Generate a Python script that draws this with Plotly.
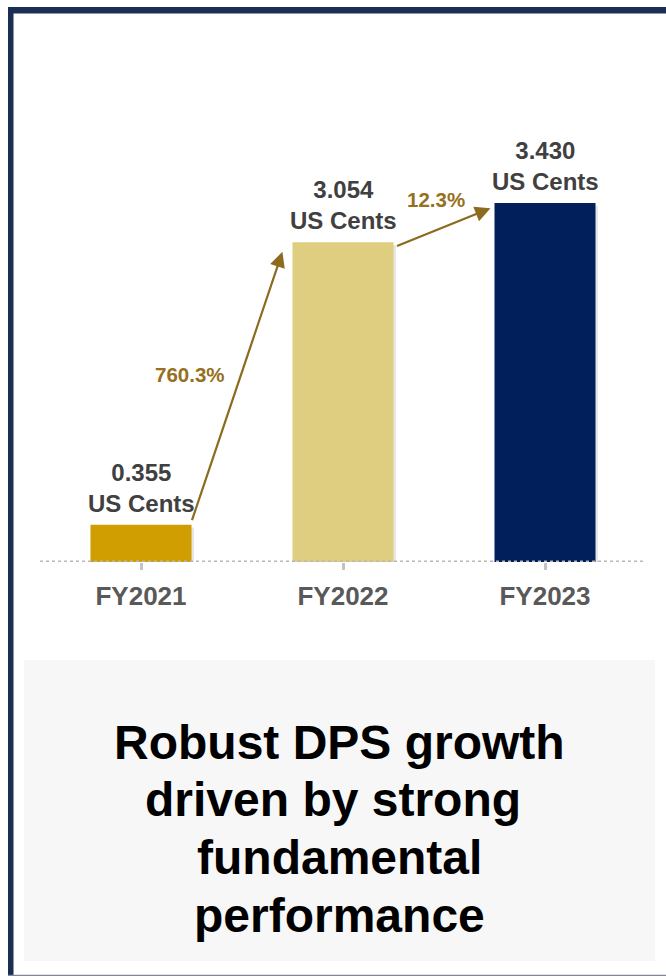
import plotly.graph_objects as go

# ---- data ----
categories = ["FY2021", "FY2022", "FY2023"]
dps_values = [0.355, 3.054, 3.430]
value_labels = ["0.355", "3.054", "3.430"]
growth_labels = ["760.3%", "12.3%"]
bar_colors = ["#d09e00", "#dfcd80", "#001f5b"]
headline_lines = ["Robust DPS growth", "driven by strong ", "fundamental", "performance"]

W, H = 666, 976
ML, MR, MT, MB = 40, 20, 80, 414
PW, PH = W - ML - MR, H - MT - MB
FONT = "Arial, 'Liberation Sans', sans-serif"

def px_x(p):
    return (p - ML) / PW

def px_y(p):
    return (H - MB - p) / PH

xs = list(range(len(categories)))
fig = go.Figure()
# soft shadow behind bars
fig.add_trace(go.Bar(x=[x + 0.012 for x in xs], y=dps_values, width=0.5, base=[-0.025] * 3,
                     marker=dict(color="rgba(0,0,0,0.10)", line=dict(width=0)),
                     hoverinfo="skip"))
fig.add_trace(go.Bar(x=xs, y=dps_values, width=0.5,
                     marker=dict(color=bar_colors, line=dict(width=0)),
                     hoverinfo="skip"))

annotations = []
# value labels
for i, (v, lab) in enumerate(zip(dps_values, value_labels)):
    annotations.append(dict(x=i, y=v, xref="x", yref="y", text=f"<b>{lab}<br>US Cents</b>",
                            showarrow=False, yanchor="bottom", yshift=6,
                            font=dict(family=FONT, size=24, color="#404040")))
# growth arrows
arrow_color = "#8c6a1e"
arrows = [
    ((0.25, dps_values[0] + 0.03), (0.70, dps_values[1] - 0.09)),
    ((1.26, dps_values[1] - 0.04), (1.73, dps_values[2] - 0.05)),
]
for (tx, ty), (hx, hy) in arrows:
    annotations.append(dict(x=hx, y=hy, ax=tx, ay=ty, xref="x", yref="y", axref="x", ayref="y",
                            text="", showarrow=True, arrowhead=2, arrowsize=1.4, arrowwidth=2.2,
                            arrowcolor=arrow_color, standoff=0, startstandoff=0))
growth_pos = [(0.243, 1.787), (1.46, 3.468)]
for (gx, gy), g in zip(growth_pos, growth_labels):
    annotations.append(dict(x=gx, y=gy, xref="x", yref="y", text=f"<b>{g}</b>", showarrow=False,
                            font=dict(family=FONT, size=20.5, color="#967020")))
# headline, one annotation per line
for k, line in enumerate(headline_lines):
    annotations.append(dict(x=px_x(339), y=px_y(742 + 57.7 * k), xref="paper", yref="paper",
                            text=f"<b>{line}</b>", showarrow=False,
                            xanchor="center", yanchor="middle",
                            font=dict(family=FONT, size=48, color="#000000")))

shapes = [
    # headline box
    dict(type="rect", xref="paper", yref="paper", x0=px_x(24), x1=px_x(655), y0=px_y(961), y1=px_y(660),
         fillcolor="#f7f7f7", line=dict(width=0), layer="below"),
    # frame
    dict(type="rect", xref="paper", yref="paper", x0=px_x(8), x1=px_x(667), y0=px_y(13.5), y1=px_y(7),
         fillcolor="#1b2f55", line=dict(width=0)),
    dict(type="rect", xref="paper", yref="paper", x0=px_x(8), x1=px_x(13.5), y0=px_y(977), y1=px_y(7),
         fillcolor="#1b2f55", line=dict(width=0)),
    dict(type="line", xref="paper", yref="paper", x0=px_x(8), x1=px_x(667), y0=px_y(975.5), y1=px_y(975.5),
         line=dict(color="#7f8794", width=1.5)),
    # dotted baseline
    dict(type="line", xref="paper", yref="y", x0=0, x1=1, y0=0, y1=0,
         line=dict(color="#b8b8b8", width=3, dash="dot"), layer="above"),
]

fig.update_layout(
    width=W, height=H, margin=dict(l=ML, r=MR, t=MT, b=MB),
    paper_bgcolor="white", plot_bgcolor="white", showlegend=False, barmode="overlay",
    annotations=annotations, shapes=shapes,
    xaxis=dict(tickvals=xs, ticktext=[f"<b>{c}</b>" for c in categories], range=[-0.5, 2.5],
               tickson="boundaries", ticks="outside", ticklen=7, tickwidth=2.5, tickcolor="#c4c4c4",
               ticklabelstandoff=4,
               showline=False, showgrid=False, zeroline=False, fixedrange=True,
               tickfont=dict(family=FONT, size=26, color="#595959")),
    yaxis=dict(range=[0, PH / 104.66], visible=False, showgrid=False, zeroline=False, fixedrange=True),
)
fig.write_html("out.html")
